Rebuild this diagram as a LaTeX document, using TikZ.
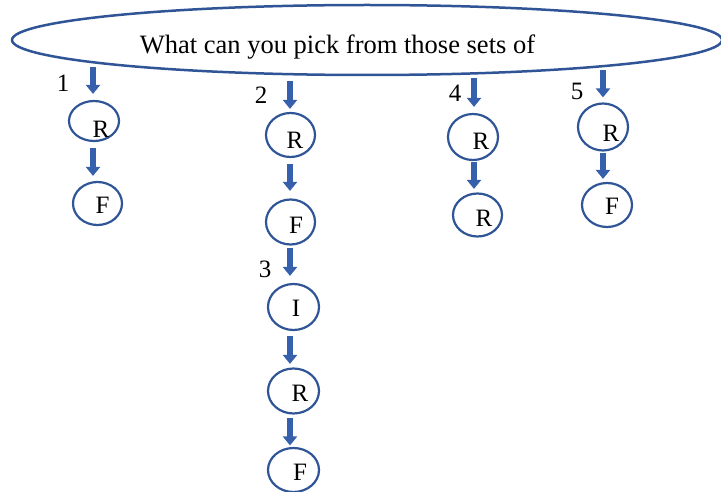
\documentclass[tikz,border=0pt]{standalone}
\usepackage{fontspec}
\setmainfont{Liberation Serif}
\usetikzlibrary{arrows.meta,shapes.geometric}
\definecolor{ovalblue}{RGB}{47,85,151}
\definecolor{arrowblue}{RGB}{55,96,172}
\tikzset{
  oval/.style={ellipse, draw=ovalblue, line width=2.2pt, inner sep=0pt,
    minimum width=50pt, minimum height=44pt},
  lettr/.style={font=\fontsize{25}{28}\selectfont, inner sep=0pt, text=black},
  numlab/.style={font=\fontsize{25}{28}\selectfont, inner sep=0pt, text=black},
  blk/.style={draw=arrowblue, line width=6pt,
    -{Triangle[width=14pt,length=9pt]}, shorten <=6pt, shorten >=5pt},
}
\begin{document}
\begin{tikzpicture}[x=1pt,y=-1pt]
\useasboundingbox (0,0) rectangle (721,492);
% top ellipse
\node[ellipse, draw=ovalblue, line width=2.5pt, inner sep=0pt,
  minimum width=710pt, minimum height=70pt] (top) at (367,40) {};
\node[anchor=base, font=\fontsize{26.5}{30}\selectfont, inner sep=0pt] (title) at (337.5,54) {What can you pick from those sets of};
% start points of the arrows under the top ellipse
\coordinate (s1) at (93,67);
\coordinate (s2) at (290,81);
\coordinate (s4) at (474,78);
\coordinate (s5) at (603,70);
% column 1
\node[oval, minimum height=40pt, label={[lettr, xshift=7pt, yshift=-8pt]center:R}] (r1) at (94,121) {};
\node[oval, minimum width=49pt, minimum height=43pt, label={[lettr, xshift=5pt, yshift=-1.5pt]center:F}] (f1) at (97.5,203.5) {};
% column 2
\node[oval, minimum width=49pt, label={[lettr, xshift=4.5pt, yshift=-5pt]center:R}] (r2) at (290.5,135) {};
\node[oval, minimum width=49pt, minimum height=45pt, label={[lettr, xshift=5.5pt, yshift=-3pt]center:F}] (f2) at (290.5,222) {};
\node[oval, minimum width=51pt, minimum height=46pt, label={[lettr, xshift=2.5pt, yshift=-1.5pt]center:I}] (i3) at (293.5,307) {};
\node[oval, minimum width=51pt, minimum height=45pt, label={[lettr, xshift=6.5pt, yshift=-2.5pt]center:R}] (r3) at (293.5,391) {};
\node[oval, minimum width=51pt, label={[lettr, xshift=6.5pt, yshift=-2pt]center:F}] (f3) at (293.5,470) {};
% column 4
\node[oval, minimum height=46pt, label={[lettr, xshift=8pt, yshift=-4pt]center:R}] (r4) at (473,137) {};
\node[oval, minimum width=49pt, minimum height=43pt, label={[lettr, xshift=6.5pt, yshift=-3pt]center:R}] (r4b) at (477.5,215) {};
% column 5
\node[oval, minimum height=47pt, label={[lettr, xshift=8pt, yshift=-6pt]center:R}] (r5) at (603,127) {};
\node[oval, label={[lettr, xshift=5pt, yshift=-1.5pt]center:F}] (f5) at (607,205) {};
% number labels
\node[numlab] (n1) at (63,83) {1};
\node[numlab] (n2) at (261,95) {2};
\node[numlab] (n3) at (265,269) {3};
\node[numlab] (n4) at (455,93) {4};
\node[numlab] (n5) at (577,91) {5};
% arrows
\draw[blk, shorten <=0pt, shorten >=6pt] (s1) -- (r1.north -| s1);
\draw[blk, shorten <=6pt, shorten >=5pt] (r1.south -| s1) -- (f1.north -| s1);
\draw[blk, shorten <=0pt, shorten >=3pt] (s2) -- (r2.north -| s2);
\draw[blk, shorten <=6pt, shorten >=7.5pt] (r2.south -| s2) -- (f2.north -| s2);
\draw[blk, shorten <=2.5pt, shorten >=7pt] (f2.south -| s2) -- (i3.north -| s2);
\draw[blk, shorten <=5pt, shorten >=3.5pt] (i3.south -| s2) -- (r3.north -| s2);
\draw[blk, shorten <=3.5pt, shorten >=1.5pt] (r3.south -| s2) -- (f3.north -| s2);
\draw[blk, shorten <=0pt, shorten >=6pt] (s4) -- (r4.north -| s4);
\draw[blk, shorten <=1pt, shorten >=3.5pt] (r4.south -| s4) -- (r4b.north -| s4);
\draw[blk, shorten <=0pt, shorten >=5pt] (s5) -- (r5.north -| s5);
\draw[blk, shorten <=1pt, shorten >=3pt] (r5.south -| s5) -- (f5.north -| s5);
\end{tikzpicture}
\end{document}
